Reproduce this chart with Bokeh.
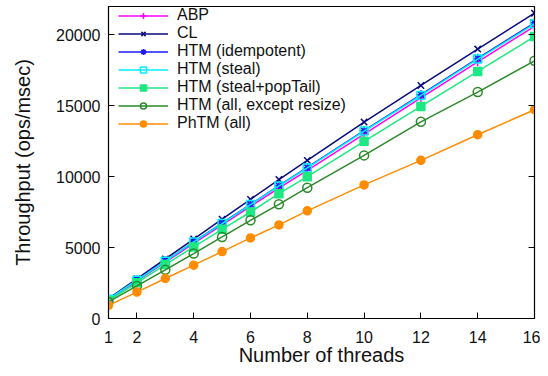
from bokeh.plotting import figure
from bokeh.models import Range1d, LinearAxis, FixedTicker, Legend, LegendItem
from bokeh.embed import file_html
from bokeh.resources import INLINE

threads = [1, 2, 3, 4, 5, 6, 7, 8, 10, 12, 14, 16]

abp = [1330, 2650, 3970, 5290, 6600, 7900, 9200, 10450, 13000, 15550, 18100, 20600]
cl = [1400, 2800, 4200, 5600, 7000, 8400, 9800, 11150, 13850, 16430, 19000, 21530]
htm_idem = [1360, 2710, 4050, 5400, 6720, 8050, 9370, 10650, 13250, 15780, 18350, 20850]
htm_steal = [1360, 2700, 4035, 5400, 6690, 8030, 9345, 10620, 13220, 15725, 18290, 20775]
htm_pop = [1270, 2520, 3800, 5050, 6290, 7510, 8800, 10000, 12490, 14950, 17420, 19880]
htm_all = [1170, 2300, 3430, 4580, 5750, 6925, 8050, 9225, 11500, 13870, 15965, 18170]
phtm = [930, 1860, 2820, 3760, 4720, 5680, 6600, 7590, 9420, 11150, 12960, 14720]

names = ["ABP", "CL", "HTM (idempotent)", "HTM (steal)", "HTM (steal+popTail)",
         "HTM (all, except resize)", "PhTM (all)"]
series = [abp, cl, htm_idem, htm_steal, htm_pop, htm_all, phtm]
colors = ["#ff00ff", "#0a0a80", "#1a1aff", "#00f0ff", "#1ee882", "#2a8a2a", "#ff8c00"]
markers = ["cross", "x", "asterisk", "square", "square", "circle", "circle"]
filled = [False, False, False, False, True, False, True]
sizes = [9, 9, 9, 8, 8, 9, 8]

x_ticks = [1, 2, 4, 6, 8, 10, 12, 14, 16]
y_ticks = [0, 5000, 10000, 15000, 20000]

FONT = "Liberation Sans"

p = figure(width=540, height=368, output_backend="svg", toolbar_location=None,
           x_range=Range1d(1, 16), y_range=Range1d(0, 22000),
           min_border_left=108, min_border_right=6, min_border_top=6, min_border_bottom=0)
p.background_fill_color = "white"
p.border_fill_color = "white"
p.outline_line_color = "black"
p.outline_line_width = 1.2
p.grid.visible = False

for ax in [p.xaxis[0], p.yaxis[0]]:
    ax.major_tick_in = 6
    ax.major_tick_out = 0
    ax.minor_tick_in = 0
    ax.minor_tick_out = 0
    ax.axis_line_color = "black"
    ax.major_tick_line_color = "black"
    ax.major_label_text_font = FONT
    ax.major_label_text_font_size = "16px"
    ax.major_label_text_color = "#111111"
    ax.axis_label_text_font = FONT
    ax.axis_label_text_font_size = "20px"
    ax.axis_label_text_font_style = "normal"
    ax.axis_label_text_color = "#111111"

p.xaxis.ticker = FixedTicker(ticks=x_ticks)
p.yaxis.ticker = FixedTicker(ticks=y_ticks)
p.xaxis.axis_label = "Number of threads"
p.yaxis.axis_label = "Throughput (ops/msec)"
p.xaxis.major_label_standoff = 12
p.xaxis.axis_label_standoff = -2
p.yaxis.major_label_standoff = 8
p.yaxis.axis_label_standoff = 19

ra = LinearAxis(ticker=FixedTicker(ticks=y_ticks), major_tick_in=6, major_tick_out=0,
                minor_tick_in=0, minor_tick_out=0,
                major_label_overrides={t: "" for t in y_ticks},
                major_label_standoff=0, axis_line_color="black")
p.add_layout(ra, "right")

items = []
for name, ys, c, m, f, s in zip(names, series, colors, markers, filled, sizes):
    r1 = p.line(threads, ys, line_color=c, line_width=1.5)
    r2 = p.scatter(threads, ys, marker=m, size=s, line_color=c, line_width=1.5,
                   fill_color=c if f else None)
    items.append(LegendItem(label=name, renderers=[r1, r2]))

legend = Legend(items=items, location=(10, 186), padding=0, margin=0, spacing=0,
                glyph_width=50, glyph_height=15, label_height=15, label_standoff=9,
                label_text_font=FONT, label_text_font_size="16px", label_text_color="#111111",
                background_fill_alpha=0, border_line_color=None)
p.add_layout(legend, "center")

open("out.html", "w").write(file_html(p, INLINE))
